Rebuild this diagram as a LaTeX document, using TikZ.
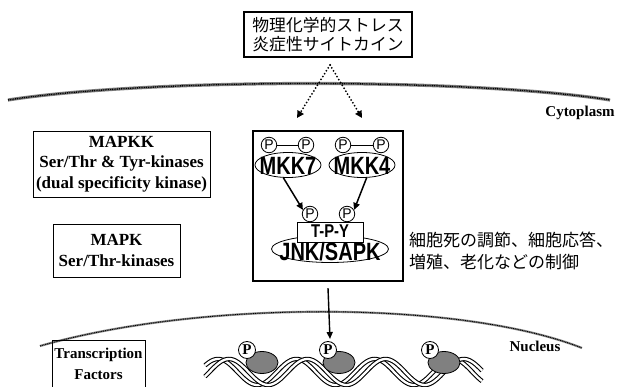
\documentclass[tikz,border=0pt]{standalone}
\usepackage{fontspec}
\setmainfont{Liberation Serif}
\newfontfamily\jp{Noto Sans CJK JP}
\newfontfamily\hv[FakeStretch=0.8]{Liberation Sans Bold}
\newfontfamily\hvp{Liberation Sans}
\usetikzlibrary{shapes.geometric,arrows.meta}
\begin{document}
\begin{tikzpicture}[x=1pt,y=-1pt,
  lbox/.style={draw, line width=0.8pt, align=center, inner sep=0pt, font=\bfseries\fontsize{17}{20.5}\selectfont},
  jbox/.style={draw, line width=1.1pt, align=center, inner sep=0pt, font=\jp\fontsize{16.8}{19.5}\selectfont},
  pc/.style={circle, draw, line width=0.8pt, fill=white, inner sep=0pt, minimum size=15.5pt, font=\hvp\fontsize{14}{14}\selectfont},
  pb/.style={circle, draw, line width=0.8pt, fill=white, inner sep=0pt, minimum size=17pt, font=\bfseries\fontsize{15}{15}\selectfont},
  ell/.style={ellipse, draw, line width=0.8pt, fill=white, inner sep=0pt},
  big/.style={inner sep=0pt, font=\hv\fontsize{25}{25}\selectfont},
  arr/.style={-{Triangle[length=7pt,width=6.5pt]}, line width=1.5pt},
  dotarr/.style={line width=2pt, dash pattern=on 0pt off 3.4pt, line cap=round, -{Triangle[length=7pt,width=7pt]}},
  lbl/.style={font=\bfseries\fontsize{15}{15}\selectfont},
  oval/.style={ellipse, draw, line width=0.8pt, fill=black!50, inner sep=0pt, minimum width=32pt, minimum height=22pt},
  strand/.style={double=white, double distance=2.3pt, line width=1.1pt}
]
\useasboundingbox (0,0) rectangle (618,387);
\fill[white] (0,0) rectangle (618,387);

% cytoplasm membrane
\draw[line width=3.2pt, black!50] (8,100) .. controls (150,78) and (470,78) .. (610,100);
\draw[line width=1.4pt, black, dash pattern=on 1pt off 0.8pt] (8,100) .. controls (150,78) and (470,78) .. (610,100);

% nucleus membrane
\draw[line width=2.2pt, black!45] (40,346) .. controls (200,300) and (460,300) .. (582,348);
\draw[line width=1pt, black, dash pattern=on 1pt off 0.8pt] (40,346) .. controls (200,300) and (460,300) .. (582,348);

% top box
\node[jbox, minimum width=168pt, minimum height=45pt] (stress) at (328,34.5) {物理化学的ストレス\\炎症性サイトカイン};
\coordinate (apex) at (330,65);
\coordinate (tipL) at (297,118);
\coordinate (tipR) at (362,118);
\draw[dotarr] (apex) -- (tipL);
\draw[dotarr] (apex) -- (tipR);

\node[lbl] (cyto) at (580,113) {Cytoplasm};
\node[lbl] (nuc) at (535,346) {Nucleus};

% left boxes
\node[lbox, minimum width=177pt, minimum height=66pt] (mapkk) at (121.5,164) {MAPKK\\Ser/Thr \& Tyr-kinases\\(dual specificity kinase)};
\node[lbox, minimum width=127pt, minimum height=53pt] (mapk) at (116.5,250.5) {MAPK\\Ser/Thr-kinases};
\node[lbox, minimum width=93pt, minimum height=47pt, font=\bfseries\fontsize{15}{21}\selectfont] (tf) at (98.5,364) {Transcription\\Factors};

% big box
\node[draw, line width=2.2pt, minimum width=150pt, minimum height=150pt, inner sep=0pt] (bigbox) at (328,206) {};

\node[ell, minimum width=66pt, minimum height=25pt] (mkk7) at (288,165) {};
\node[ell, minimum width=66pt, minimum height=25pt] (mkk4) at (362,165) {};
\node[big] (mkk7t) at (288,165.5) {MKK7};
\node[big] (mkk4t) at (362,165.5) {MKK4};
\node[pc] (p1) at (269,145) {P};
\node[pc] (p2) at (306,145) {P};
\node[pc] (p3) at (343,145) {P};
\node[pc] (p4) at (381,145) {P};
\draw[line width=0.9pt] (p1) -- (p2);
\draw[line width=0.9pt] (p3) -- (p4);

\node[ell, minimum width=117pt, minimum height=27pt] (jnk) at (330,249) {};
\node[draw, line width=0.8pt, fill=white, minimum width=66pt, minimum height=20pt, inner sep=0pt] (tpybox) at (330,232) {};
\node[inner sep=0pt, font=\hv\fontsize{18.5}{18.5}\selectfont] (tpy) at (330,231.5) {T-P-Y};
\node[big] (jnktext) at (330,252) {JNK/SAPK};
\node[pc] (q1) at (310,214) {P};
\node[pc] (q2) at (347,214) {P};
\draw[arr] (mkk7.250) -- (q1.150);
\draw[arr] (mkk4.290) -- (q2.30);

% right text
\node[anchor=west, align=left, inner sep=0pt, font=\jp\fontsize{17}{22}\selectfont] (effect) at (409,251) {細胞死の調節、細胞応答、\\増殖、老化などの制御};

% arrow to nucleus
\coordinate (nucend) at (330,339);
\draw[line width=1.4pt, -{Triangle[length=7pt,width=6pt]}] ([yshift=-6pt]bigbox.south) -- (nucend);

% DNA
\begin{scope}
\clip (200,340) rectangle (490,387);
\draw[strand] plot[domain=205:482, samples=140, smooth] (\x, {372 - 13*cos(4.6*(\x-218))});
\draw[strand] plot[domain=205:482, samples=140, smooth] (\x, {372 - 13*cos(4.6*(\x-229))});
\end{scope}
\node[oval] (o1) at (262,362.5) {};
\node[oval] (o2) at (339,362.5) {};
\node[oval] (o3) at (444,362.5) {};
\node[pb] (d1) at (247,350) {P};
\node[pb] (d2) at (328,350) {P};
\node[pb] (d3) at (430,350) {P};
\end{tikzpicture}
\end{document}
